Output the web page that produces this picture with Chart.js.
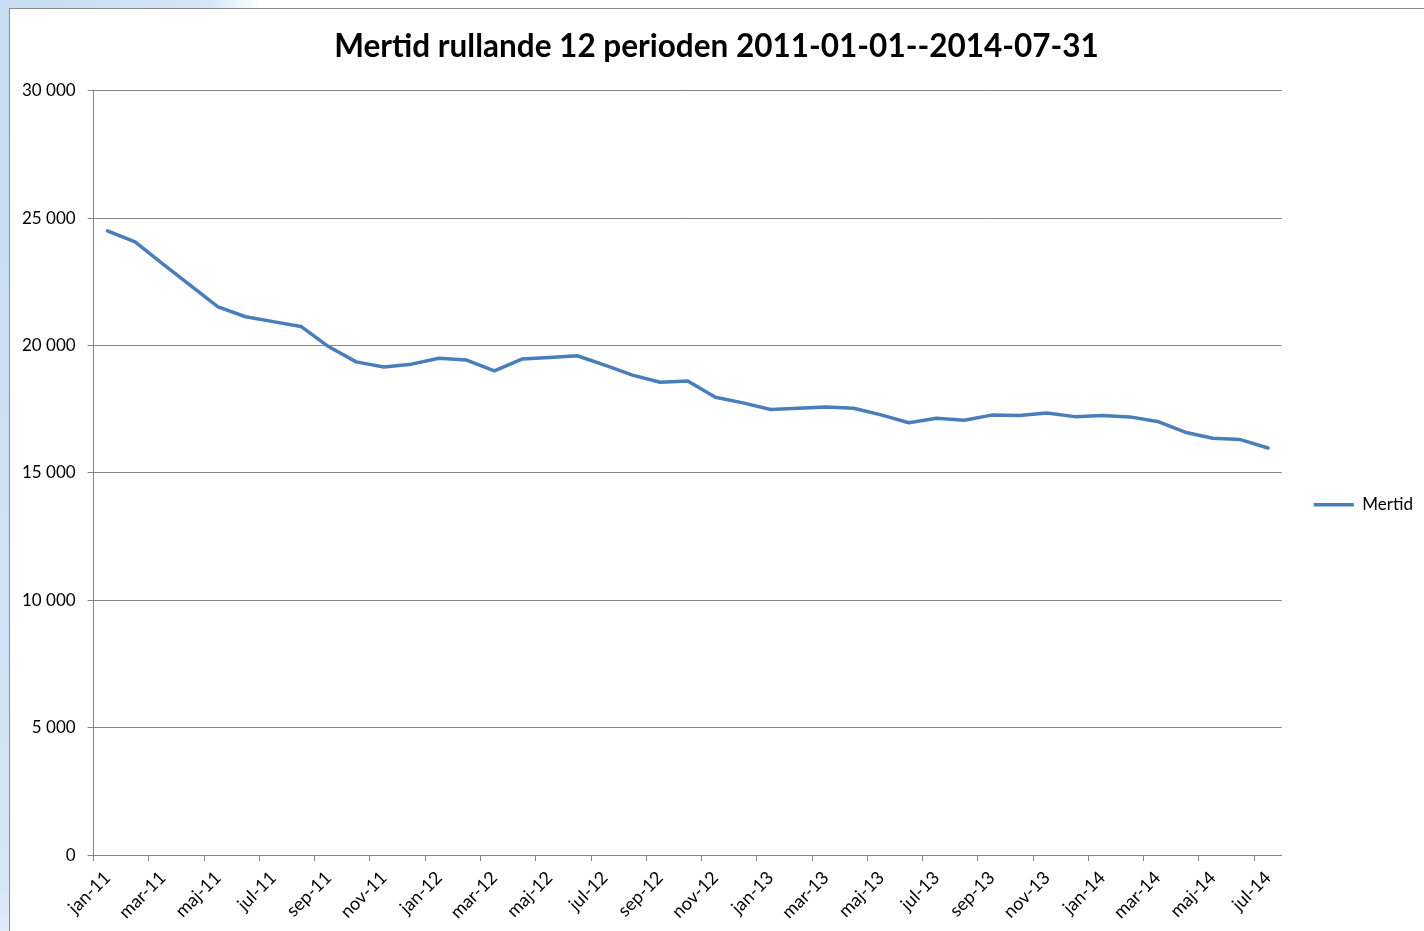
<!DOCTYPE html>
<html><head><meta charset="utf-8">
<script src="https://cdn.jsdelivr.net/npm/chart.js@4/dist/chart.umd.min.js"></script>
<style>
html,body{margin:0;padding:0;width:1424px;height:931px;overflow:hidden;}
body{position:relative;background:radial-gradient(ellipse 260px 1100px at 0 0,#c4dbf1 0%,#d4e6f7 80%,#ffffff 100%),#fff;}
#frame{position:absolute;left:9px;top:8px;width:1420px;height:930px;border-left:1px solid #8c8c8c;border-top:1px solid #8c8c8c;background:#fff;}
#wrap{position:absolute;left:0;top:0;width:1424px;height:931px;}
</style></head>
<body>
<div id="frame"></div>
<div id="wrap"><canvas id="c" width="1424" height="931"></canvas></div>
<script>
const chartTitle = 'Mertid rullande 12 perioden 2011-01-01--2014-07-31';
const seriesName = 'Mertid';
const months = ['jan-11','feb-11','mar-11','apr-11','maj-11','jun-11','jul-11','aug-11','sep-11','okt-11','nov-11','dec-11',
  'jan-12','feb-12','mar-12','apr-12','maj-12','jun-12','jul-12','aug-12','sep-12','okt-12','nov-12','dec-12',
  'jan-13','feb-13','mar-13','apr-13','maj-13','jun-13','jul-13','aug-13','sep-13','okt-13','nov-13','dec-13',
  'jan-14','feb-14','mar-14','apr-14','maj-14','jun-14','jul-14'];
const mertid = [24500,24070,23210,22360,21520,21130,20940,20750,19960,19360,19160,19270,
  19500,19430,19010,19470,19530,19600,19230,18840,18560,18610,17970,17750,
  17490,17540,17590,17540,17280,16970,17150,17070,17270,17250,17350,17210,
  17250,17200,17020,16600,16360,16310,15980];
const yMin = 0, yMax = 30000, yStep = 5000;

const gridGray = '#868686';
const font = 'Lato, "Open Sans", sans-serif';
function fmt(v){ return String(v).replace(/\B(?=(\d{3})+(?!\d))/g,' '); }

new Chart(document.getElementById('c'), {
  type: 'line',
  data: { labels: months, datasets: [{
    label: seriesName, data: mertid, borderColor: '#4A7EBB', backgroundColor: '#4A7EBB',
    borderWidth: 3.5, pointRadius: 0, pointHoverRadius: 0, tension: 0,
    borderCapStyle: 'round', borderJoinStyle: 'round', pointStyle: 'line'
  }]},
  options: {
    responsive: false, animation: false, devicePixelRatio: 1,
    layout: { padding: { left: 10, right: 1, top: 0, bottom: 2 } },
    plugins: {
      title: { display: true, text: chartTitle, color: '#000',
        font: { family: font, size: 31.5, weight: 'bold' }, padding: { top: 28, bottom: 25 } },
      legend: { position: 'right', align: 'center',
        title: { display: true, text: ' ', padding: 33, font: { family: font, size: 12 } },
        labels: { usePointStyle: true, pointStyle: 'line', pointStyleWidth: 40, color: '#000',
          padding: 32, font: { family: font, size: 17 } } },
      tooltip: { enabled: false }
    },
    scales: {
      x: { offset: true,
        grid: { offset: true, drawOnChartArea: false, tickLength: 6,
          tickColor: (ctx) => (ctx.index !== undefined && ctx.index % 2 === 0) ? gridGray : 'rgba(0,0,0,0)' },
        border: { color: gridGray, width: 1 },
        ticks: { autoSkip: false, minRotation: 45, maxRotation: 45, padding: 6, color: '#000',
          font: { family: font, size: 18 },
          callback: function(v, i){ return i % 2 === 0 ? months[i] : ''; } } },
      y: { min: yMin, max: yMax,
        grid: { color: gridGray, tickLength: 6 },
        border: { color: gridGray, width: 1 },
        ticks: { stepSize: yStep, padding: 12, color: '#000', font: { family: font, size: 17 },
          callback: (v) => fmt(v) } }
    }
  }
});
</script>
</body></html>
